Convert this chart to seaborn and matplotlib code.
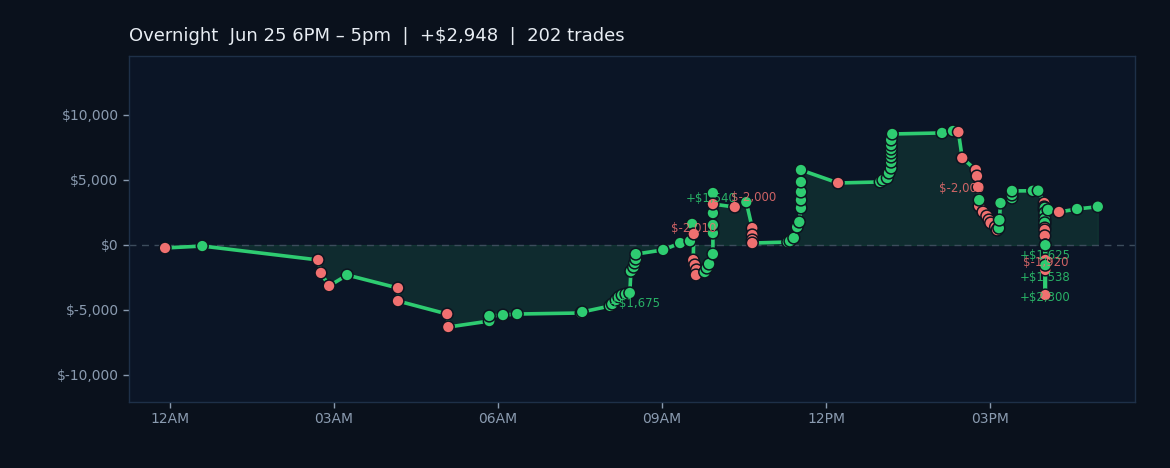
import numpy as np
import pandas as pd
import matplotlib
matplotlib.use("Agg")
import matplotlib.pyplot as plt
import matplotlib.dates as mdates
import seaborn as sns

# ---------------- data ----------------
title_text = "Overnight  Jun 25 6PM \u2013 5pm  |  +$2,948  |  202 trades"
session_day = "2024-06-26"

# trade exit times (hours relative to midnight)
trade_hours = [
    -0.09, 0.59, 2.71, 2.76, 2.91, 3.24, 4.17, 4.17, 5.07, 5.09,      # 0-9
    5.84, 5.84, 6.09, 6.35, 7.52, 7.54, 8.05, 8.09, 8.16, 8.21,       # 10-19
    8.27, 8.34, 8.41, 8.43, 8.48, 8.50, 8.52, 8.52, 9.02, 9.33,       # 20-29
    9.51, 9.55, 9.58, 9.57, 9.60, 9.63, 9.62, 9.78, 9.82, 9.86,       # 30-39
    9.93, 9.93, 9.93, 9.93, 9.93, 9.93, 10.33, 10.54, 10.65, 10.65,   # 40-49
    10.65, 10.65, 11.30, 11.34, 11.41, 11.47, 11.51, 11.54, 11.54, 11.54,  # 50-59
    11.54, 11.54, 12.22, 12.99, 13.04, 13.12, 13.15, 13.19, 13.19, 13.19,  # 60-69
    13.19, 13.19, 13.19, 13.19, 13.21, 14.12, 14.32, 14.42, 14.49, 14.74,  # 70-79
    14.76, 14.78, 14.80, 14.80, 14.87, 14.94, 14.98, 15.01, 15.10, 15.13,  # 80-89
    15.16, 15.17, 15.19, 15.40, 15.40, 15.40, 15.78, 15.88, 15.99, 15.99,  # 90-99
    15.99, 16.00, 16.00, 16.00, 16.00, 16.00, 16.00, 16.00, 16.00, 16.00,  # 100-109
    16.00, 16.01, 16.01, 16.01, 16.01, 16.01, 16.01, 16.01, 16.06, 16.26,  # 110-119
    16.59, 16.97,                                                          # 120-121
]
# cumulative P&L after each trade ($)
cum_pnl = [
    -230, -80, -1150, -2150, -3150, -2310, -3310, -4310, -5310, -6310,
    -5850, -5460, -5390, -5310, -5230, -5150, -4690, -4540, -4230, -4000,
    -3850, -3770, -3690, -2015, -1700, -1380, -1080, -700, -380, 150,
    300, 1620, 850, -1160, -1540, -1920, -2310, -2080, -1770, -1460,
    -690, 920, 1540, 2460, 4000, 3150, 2920, 3300, 1300, 770,
    380, 150, 230, 300, 540, 1380, 1770, 2850, 3460, 4080,
    4850, 5770, 4770, 4850, 5000, 5150, 5540, 5920, 6380, 6770,
    7080, 7380, 7690, 8080, 8540, 8620, 8770, 8690, 6690, 5770,
    5300, 4460, 3000, 3460, 2540, 2230, 1920, 1690, 1380, 1150,
    1300, 1920, 3230, 3610, 3850, 4160, 4170, 4180, 3230, 2920,
    2700, 2850, 2300, 2460, 1850, 2000, 1620, 1700, 1300, 1150,
    700, -1150, -1625, 0, -1920, -3850, -1550, -12, 2700, 2540,
    2770, 2948,
]

# trades that carry a P&L label (index into the series)
label_idx = [23, 33, 44, 48, 78, 113, 114, 116, 117]
# label text offsets (pixels) relative to the trade's point
label_dx = [4, 0, -2, 1, -1, 0, 0, 0, 0]
label_dy = [-32, 32, -6, 31, -30, -11, 7, -32, -32]

ytick_vals = [-10000, -5000, 0, 5000, 10000]

# ---------------- build table ----------------
n = min(len(trade_hours), len(cum_pnl))
base = pd.Timestamp(session_day)
df = pd.DataFrame({
    "time": base + pd.to_timedelta(np.array(trade_hours[:n]), unit="h"),
    "cum": np.array(cum_pnl[:n], dtype=float),
})
df["pnl"] = df["cum"].diff().fillna(df["cum"])
df["side"] = np.where(df["pnl"] >= 0, "win", "loss")

# ---------------- style ----------------
FIG_BG = "#0a111c"
AX_BG = "#0b1526"
GREEN = "#2ecc71"
RED = "#f07070"
TICK = "#8a9bb0"
SPINE = "#1e3048"

sns.set_theme(style="dark")
plt.rcParams["font.family"] = ["DejaVu Sans"]

fig = plt.figure(figsize=(11.7, 4.68), dpi=100, facecolor=FIG_BG)
ax = fig.add_axes([129 / 1170, 1 - 402 / 468, (1135 - 129) / 1170, (402 - 56) / 468])
ax.set_facecolor(AX_BG)

ax.fill_between(df["time"], 0, df["cum"], color=GREEN, alpha=0.12, lw=0.8, zorder=1)
ax.axhline(0, color="#3c4c5c", lw=1.0, ls=(0, (5, 4)), zorder=1.5)

sns.lineplot(data=df, x="time", y="cum", ax=ax, color=GREEN, lw=2.6,
             sort=False, estimator=None, zorder=2, legend=False)
sns.scatterplot(data=df, x="time", y="cum", hue="side",
                palette={"win": GREEN, "loss": RED}, s=72,
                edgecolor="#0d1420", linewidth=1.1, ax=ax, zorder=3,
                legend=False)

for i, dx, dy in zip(label_idx, label_dx, label_dy):
    if i >= n:
        continue
    p = df["pnl"].iloc[i]
    txt = f"+${p:,.0f}" if p >= 0 else f"${p:,.0f}"
    ax.annotate(txt, (mdates.date2num(df["time"].iloc[i]), df["cum"].iloc[i]),
                xytext=(dx, dy), textcoords="offset pixels",
                ha="center", va="center", fontsize=8.5,
                color=GREEN if p >= 0 else RED, alpha=0.85, zorder=4)

ax.set_xlim(base + pd.Timedelta(hours=-0.75), base + pd.Timedelta(hours=17.65))
ax.set_ylim(-12077, 14538)
ax.xaxis.set_major_locator(mdates.HourLocator(byhour=[0, 3, 6, 9, 12, 15]))
ax.xaxis.set_major_formatter(mdates.DateFormatter("%I%p"))
ax.set_yticks(ytick_vals)
ax.set_yticklabels([f"${v:,.0f}" for v in ytick_vals])
ax.tick_params(colors=TICK, labelsize=10, length=4, width=1, bottom=True, left=True)
ax.set_xlabel("")
ax.set_ylabel("")
ax.grid(False)
for s in ax.spines.values():
    s.set_visible(True)
    s.set_color(SPINE)
    s.set_linewidth(1)

fig.text(129 / 1170, 1 - 36 / 468, title_text, color="#e8edf3", fontsize=13,
         ha="left", va="center")

fig.savefig("out.png", dpi=100, facecolor=FIG_BG)
